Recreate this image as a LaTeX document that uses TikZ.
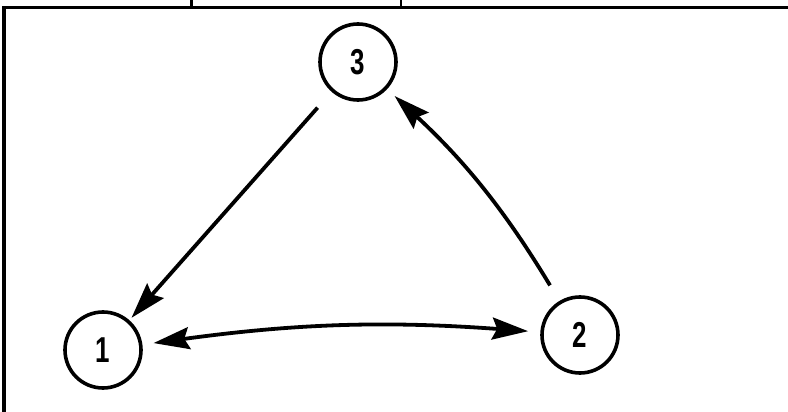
\documentclass[tikz,border=0pt]{standalone}
\usepackage{fontspec}
\setmainfont{Liberation Sans}
\usetikzlibrary{arrows.meta}
\begin{document}
\begin{tikzpicture}[x=1pt,y=-1pt,
  state/.style={circle,draw,line width=3.6pt,minimum size=76pt,inner sep=0pt,outer sep=0pt,
    font=\fontsize{36}{36}\selectfont\bfseries},
  conn/.style={line width=3.8pt,-{Stealth[length=36pt,width=22pt,inset=5pt]}},
  dconn/.style={line width=3.8pt,{Stealth[length=36pt,width=22pt,inset=5pt]}-{Stealth[length=36pt,width=22pt,inset=5pt]}},
  frameline/.style={line width=3.5pt}]
\useasboundingbox (0,0) rectangle (788,412);
% frame
\draw[frameline] (4,412) -- (4,7.5) -- (788,7.5);
\draw[line width=2.5pt] (191.5,0) -- (191.5,7);
\draw[line width=2.5pt] (401,0) -- (401,7);
% nodes
\node[state] (n3) at (358,62) {\scalebox{0.72}[1]{3}};
\node[state] (n1) at (103,350) {\scalebox{0.72}[1]{1}};
\node[state] (n2) at (580,335) {\scalebox{0.72}[1]{2}};
% connectors
\draw[conn,shorten <=23pt,shorten >=5pt] (n3) -- (n1);
\draw[conn,shorten <=20pt,shorten >=12pt] (n2) to[bend right=8] (n3);
\draw[dconn,shorten <=13pt,shorten >=14pt] (n1) to[bend left=6] (n2);
\end{tikzpicture}
\end{document}
